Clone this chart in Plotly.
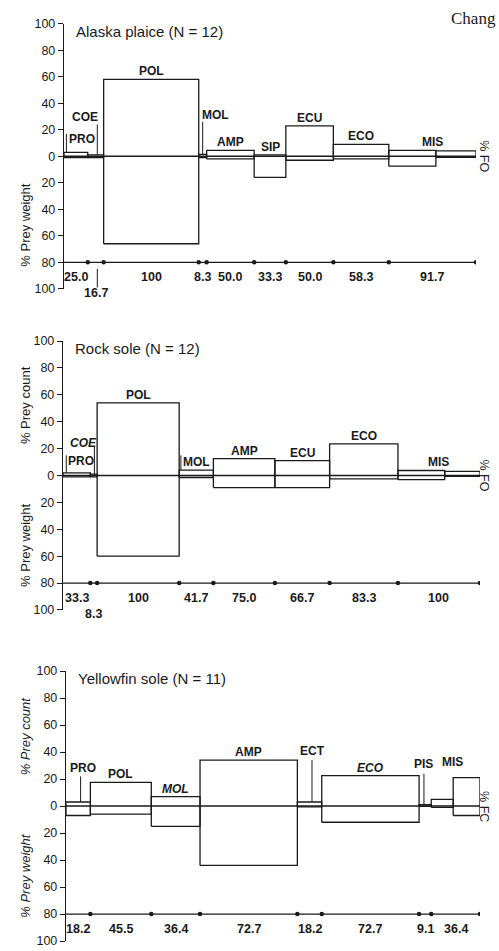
import numpy as np
import plotly.graph_objects as go

# ---------------- data ----------------
# Alaska plaice
ap_cats = ["PRO", "COE", "POL", "MOL", "AMP", "SIP", "ECU", "ECO", "MIS"]
ap_fo = [25.0, 16.7, 100, 8.3, 50.0, 33.3, 50.0, 58.3, 91.7]
ap_fo_text = ["25.0", "16.7", "100", "8.3", "50.0", "33.3", "50.0", "58.3", "91.7"]
ap_count = [3, 1, 58, 1.5, 4.5, 1, 23, 9, 4.5]
ap_weight = [1, 1, 66, 1, 2, 16, 3, 2, 7.5]
ap_mis_tail = [0.46, 4, 0.8]          # share of MIS width, % count, % weight

# Rock sole
rs_cats = ["PRO", "COE", "POL", "MOL", "AMP", "ECU", "ECO", "MIS"]
rs_fo = [33.3, 8.3, 100, 41.7, 75.0, 66.7, 83.3, 100]
rs_fo_text = ["33.3", "8.3", "100", "41.7", "75.0", "66.7", "83.3", "100"]
rs_count = [2, 1, 54, 4, 12.5, 11, 23.5, 3.7]
rs_weight = [1, 1, 60, 1.5, 9, 9, 2.5, 3]
rs_mis_tail = [0.43, 3, 0.6]

# Yellowfin sole
ys_cats = ["PRO", "POL", "MOL", "AMP", "ECT", "ECO", "PIS", "MIS"]
ys_fo = [18.2, 45.5, 36.4, 72.7, 18.2, 72.7, 9.1, 36.4]
ys_fo_text = ["18.2", "45.5", "36.4", "72.7", "18.2", "72.7", "9.1", "36.4"]
ys_count = [3, 17.5, 7, 34, 3, 22.5, 1, 5]
ys_weight = [7, 6, 15, 44, 0.6, 12, 0.3, 1]
ys_mis_tail = [0.55, 21, 7]

titles = ["Alaska plaice (N = 12)", "Rock sole (N = 12)", "Yellowfin sole (N = 11)"]
right_labels = ["% FO", "% FO", "% FC"]
y_ticks = [100, 80, 60, 40, 20, 0, -20, -40, -60, -80, -100]

# ---------------- styling / layout config ----------------
W, H = 499, 951
FONT = "Liberation Sans, Arial, Helvetica, sans-serif"
INK = "#1a1a1a"

X_DOM = [(64 / W, 476 / W), (63 / W, 480 / W), (66 / W, 480 / W)]
Y_DOM = [(1 - 286 / H, 1 - 17 / H), (1 - 612 / H, 1 - 339 / H), (1 - 948 / H, 1 - 674 / H)]
AXIS_PX = [64, 63, 66]

panels = [
    dict(cats=ap_cats, fo=ap_fo, fo_text=ap_fo_text, count=ap_count, weight=ap_weight,
         tail=ap_mis_tail, italic=set(), italic_titles=False, show_count_title=False,
         label_over={"PRO": (13, 6), "COE": (30, -11), "MOL": (31, 13)},
         leaders={"PRO": (0.1, 17), "COE": (0.6, 24), "MOL": (0.5, 26)},
         fo_row2={"COE"}, fo_bracket={"COE"}),
    dict(cats=rs_cats, fo=rs_fo, fo_text=rs_fo_text, count=rs_count, weight=rs_weight,
         tail=rs_mis_tail, italic={"COE"}, italic_titles=False, show_count_title=True,
         label_over={"PRO": (11, 4), "COE": (24, -10)},
         leaders={"PRO": (0.12, 15), "COE": (0.6, 22), "MOL": (0.05, 15)},
         fo_row2={"COE"}, fo_bracket=set()),
    dict(cats=ys_cats, fo=ys_fo, fo_text=ys_fo_text, count=ys_count, weight=ys_weight,
         tail=ys_mis_tail, italic={"MOL", "ECO"}, italic_titles=True, show_count_title=True,
         label_over={"PRO": (28, 5), "ECT": (41, 3), "PIS": (31, -2), "MIS": (33, -3)},
         leaders={"PRO": (0.6, 22), "ECT": (0.6, 34), "PIS": (0.4, 24)},
         fo_row2=set(), fo_bracket=set()),
]

fig = go.Figure()
annotations = []
shapes = []

for i, p in enumerate(panels):
    n = "" if i == 0 else str(i + 1)
    xr, yr = "x" + n, "y" + n
    fo = np.array(p["fo"], dtype=float)
    edges = np.concatenate([[0.0], np.cumsum(fo)])
    total = edges[-1]

    # rectangles (count upward, weight downward)
    rx, ry = [], []

    def rect(x0, x1, c, w):
        rx.extend([x0, x0, x1, x1, x0, None])
        ry.extend([-w, c, c, -w, -w, None])

    for j, cat in enumerate(p["cats"]):
        x0, x1 = edges[j], edges[j + 1]
        if cat == "MIS":
            share, tc, tw = p["tail"]
            xm = x1 - share * (x1 - x0)
            rect(x0, xm, p["count"][j], p["weight"][j])
            rect(xm, x1, tc, tw)
        else:
            rect(x0, x1, p["count"][j], p["weight"][j])

    fig.add_trace(go.Scatter(x=rx, y=ry, mode="lines", xaxis=xr, yaxis=yr,
                             line=dict(color=INK, width=1.3), hoverinfo="skip",
                             showlegend=False))
    # zero line
    fig.add_trace(go.Scatter(x=[0, total], y=[0, 0], mode="lines", xaxis=xr, yaxis=yr,
                             line=dict(color=INK, width=1.5), hoverinfo="skip",
                             showlegend=False))
    # FO line with boundary dots
    fig.add_trace(go.Scatter(x=[0, total], y=[-80, -80], mode="lines", xaxis=xr, yaxis=yr,
                             line=dict(color=INK, width=1.3), hoverinfo="skip",
                             showlegend=False))
    fig.add_trace(go.Scatter(x=edges[1:], y=[-80] * len(fo), mode="markers", xaxis=xr,
                             yaxis=yr, marker=dict(color=INK, size=4.5),
                             hoverinfo="skip", showlegend=False))

    # category labels & leaders, FO labels
    for j, cat in enumerate(p["cats"]):
        x0, x1 = edges[j], edges[j + 1]
        cx = 0.5 * (x0 + x1)
        c = p["count"][j]
        if cat == "MIS":
            c = max(c, p["tail"][1])
        ly, xs = c + 6, 0
        if cat in p["label_over"]:
            ly, xs = p["label_over"][cat]
        txt = f"<b><i>{cat}</i></b>" if cat in p["italic"] else f"<b>{cat}</b>"
        annotations.append(dict(x=cx, y=ly, xref=xr, yref=yr, text=txt, showarrow=False,
                                xshift=xs, font=dict(family=FONT, size=12, color=INK)))
        if cat in p["leaders"]:
            fr, top = p["leaders"][cat]
            lx = x0 + fr * (x1 - x0)
            shapes.append(dict(type="line", xref=xr, yref=yr, x0=lx, x1=lx,
                               y0=p["count"][j], y1=top,
                               line=dict(color=INK, width=1)))
        row2 = cat in p["fo_row2"]
        annotations.append(dict(x=cx, y=-91, yshift=-16 if row2 else 0, xref=xr, yref=yr,
                                text=f"<b>{p['fo_text'][j]}</b>", showarrow=False,
                                font=dict(family=FONT, size=12.5, color=INK)))
        if cat in p["fo_bracket"]:
            lx = x0 + 0.6 * (x1 - x0)
            shapes.append(dict(type="line", xref=xr, yref=yr, x0=lx, x1=lx,
                               y0=-85, y1=-99, line=dict(color=INK, width=1)))

    # panel title
    annotations.append(dict(x=(AXIS_PX[i] + 10) / W, y=94.5, xref="paper", yref=yr,
                            text=titles[i], showarrow=False, xanchor="left",
                            font=dict(family=FONT, size=15, color=INK)))
    # right side label
    annotations.append(dict(x=493 / W, y=0, xref="paper", yref=yr, text=right_labels[i],
                            showarrow=False, textangle=90,
                            font=dict(family=FONT, size=12.5, color=INK)))
    # axis titles
    it = (lambda s: f"<i>{s}</i>") if p["italic_titles"] else (lambda s: s)
    if p["show_count_title"]:
        annotations.append(dict(x=16 / W, y=52, xref="paper", yref=yr,
                                text=it("% Prey count"), showarrow=False, textangle=-90,
                                font=dict(family=FONT, size=13, color=INK)))
    annotations.append(dict(x=16 / W, y=-52, xref="paper", yref=yr,
                            text=it("% Prey weight"), showarrow=False, textangle=-90,
                            font=dict(family=FONT, size=13, color=INK)))

    fig.layout["xaxis" + n] = dict(domain=list(X_DOM[i]), range=[0, total], visible=False,
                                   anchor=yr, fixedrange=True)
    fig.layout["yaxis" + n] = dict(domain=list(Y_DOM[i]), range=[-100, 100], anchor=xr,
                                   tickvals=y_ticks,
                                   ticktext=[str(abs(v)) for v in y_ticks],
                                   ticks="outside", ticklen=5, tickwidth=1.2,
                                   tickcolor=INK, showline=True, linecolor=INK,
                                   linewidth=1.4, showgrid=False, zeroline=False,
                                   tickfont=dict(family=FONT, size=12.5, color=INK),
                                   fixedrange=True)

# running header at top right
annotations.append(dict(x=449 / W, y=1, xref="paper", yref="paper", text="Chang",
                        showarrow=False, xanchor="left", yanchor="top",
                        font=dict(family="Liberation Serif, Times New Roman, serif",
                                  size=17, color=INK)))

fig.update_layout(width=W, height=H, margin=dict(l=0, r=0, t=0, b=0),
                  paper_bgcolor="white", plot_bgcolor="white",
                  annotations=annotations, shapes=shapes, showlegend=False)

fig.write_html("out.html", config={"displayModeBar": False},
               post_script="document.body.style.margin='0px';")
